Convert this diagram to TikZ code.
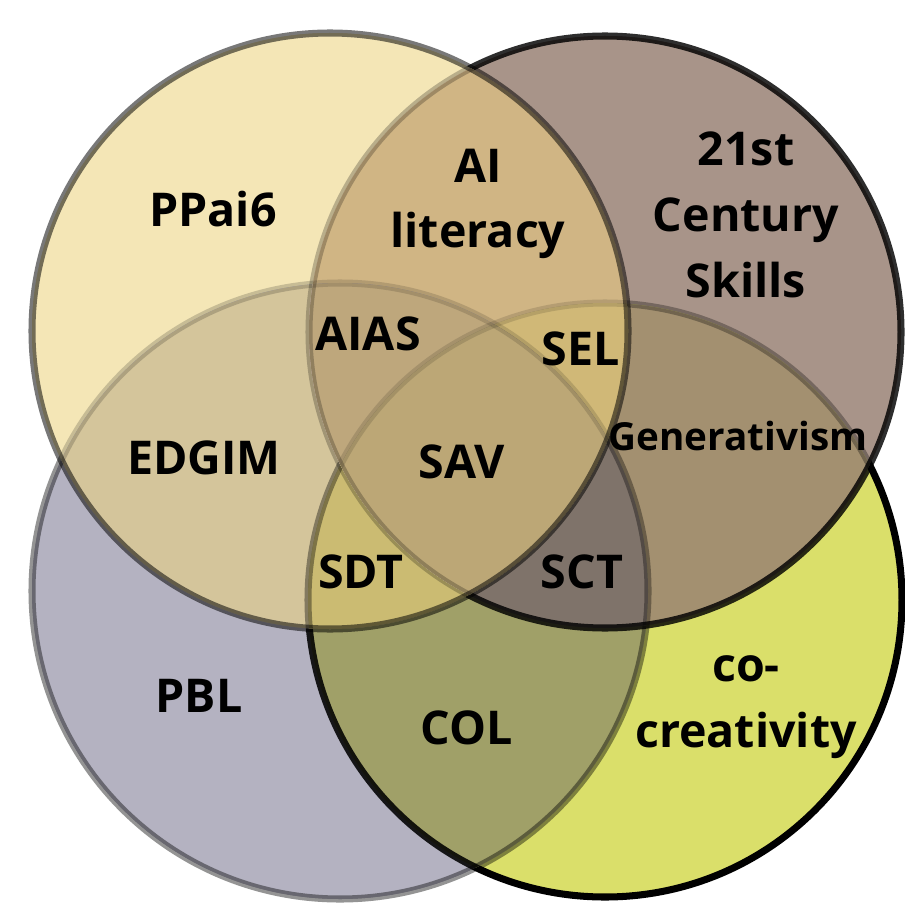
\documentclass[tikz,border=0pt]{standalone}
\usepackage{fontspec}
\newfontfamily\osans{Open Sans}
\definecolor{fA}{HTML}{F4E6B6}
\definecolor{fB}{HTML}{A89489}
\definecolor{fC}{HTML}{B4B2C1}
\definecolor{fD}{HTML}{DADF6A}
\definecolor{fAB}{HTML}{D0B584}
\definecolor{fAC}{HTML}{D4C59B}
\definecolor{fAD}{HTML}{CFB87A}
\definecolor{fBC}{HTML}{9C8E8E}
\definecolor{fBD}{HTML}{A39070}
\definecolor{fCD}{HTML}{A0A068}
\definecolor{fABC}{HTML}{BEA77C}
\definecolor{fABD}{HTML}{D0B877}
\definecolor{fACD}{HTML}{CBBB72}
\definecolor{fBCD}{HTML}{7F736A}
\definecolor{fABCD}{HTML}{BCA776}
\newcommand\vennA{(330,331) circle[radius=298]}
\newcommand\vennB{(605,332) circle[radius=296]}
\newcommand\vennC{(340,591) circle[radius=308]}
\newcommand\vennD{(605,600) circle[radius=297]}
\newcommand\paintall{%
 \fill[fA] \vennA; \fill[fB] \vennB; \fill[fC] \vennC; \fill[fD] \vennD;
 \begin{scope}\clip \vennA; \fill[fAB] \vennB; \fill[fAC] \vennC; \fill[fAD] \vennD;\end{scope}
 \begin{scope}\clip \vennB; \fill[fBC] \vennC; \fill[fBD] \vennD;\end{scope}
 \begin{scope}\clip \vennC; \fill[fCD] \vennD;\end{scope}
 \begin{scope}\clip \vennA; \clip \vennB; \fill[fABC] \vennC; \fill[fABD] \vennD;\end{scope}
 \begin{scope}\clip \vennA; \clip \vennC; \fill[fACD] \vennD;\end{scope}
 \begin{scope}\clip \vennB; \clip \vennC; \fill[fBCD] \vennD;\end{scope}
 \begin{scope}\clip \vennA; \clip \vennB; \clip \vennC; \fill[fABCD] \vennD;\end{scope}
}
\begin{document}
\begin{tikzpicture}[x=0.02cm,y=-0.02cm,
  lbl/.style={font=\osans\bfseries\fontsize{26.5}{37.4}\selectfont, inner sep=0pt, align=center, text=black},
  lblsm/.style={font=\osans\bfseries\fontsize{22}{30}\selectfont, inner sep=0pt, text=black},
  rim/.style={line width=4pt, draw=black}]
 \useasboundingbox (0,0) rectangle (905,905);
 \paintall
 \draw[rim] \vennD;
 \begin{scope}\clip \vennC; \paintall
   \draw[rim, draw opacity=0.88] \vennD;
 \end{scope}
 \draw[rim, draw opacity=0.42] \vennC;
 \begin{scope}\clip \vennB; \paintall
   \draw[rim, draw opacity=0.3] \vennD;
   \draw[rim, draw opacity=0.35] \vennC;
 \end{scope}
 \draw[rim, draw opacity=0.82] \vennB;
 \begin{scope}\clip \vennA; \paintall
   \draw[rim, draw opacity=0.38] \vennD;
   \draw[rim, draw opacity=0.18] \vennC;
   \draw[rim, draw opacity=0.24] \vennB;
 \end{scope}
 \begin{scope}\clip \vennA; \clip \vennB; \paintall
   \draw[rim, draw opacity=0.13] \vennD;
   \draw[rim, draw opacity=0.14] \vennC;
   \draw[rim, draw opacity=0.24] \vennB;
 \end{scope}
 \draw[rim, draw opacity=0.53] \vennA;
 \node[lbl, anchor=base] (ppai) at (213,227) {PPai6};
 \node[lbl] (ail) at (478,204) {AI\\literacy};
 \node[lbl] (cent) at (746,215) {21st\\Century\\Skills};
 \node[lbl, anchor=base] (aias) at (368,350) {AIAS};
 \node[lbl, anchor=base] (sel) at (581,365) {SEL};
 \node[lbl, anchor=base] (edgim) at (204,474) {EDGIM};
 \node[lbl, anchor=base] (sav) at (462,478) {SAV};
 \node[lblsm, anchor=base] (gen) at (738,450) {Generativism};
 \node[lbl, anchor=base] (sdt) at (361,588) {SDT};
 \node[lbl, anchor=base] (sct) at (582,588) {SCT};
 \node[lbl, anchor=base] (pbl) at (199,712) {PBL};
 \node[lbl, anchor=base] (col) at (467,744) {COL};
 \node[lbl] (cocr) at (746,707) {co-\\creativity};
\end{tikzpicture}
\end{document}
